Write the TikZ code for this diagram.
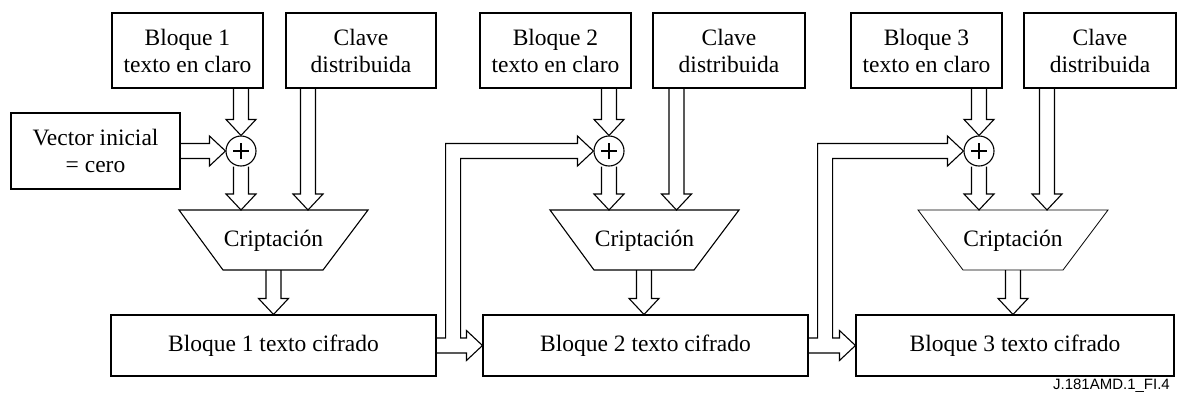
\documentclass[tikz,border=0pt]{standalone}
\usepackage{fontspec}
\setmainfont{Liberation Serif}
\newfontfamily\labelsans{Liberation Sans}
\usetikzlibrary{calc}
\tikzset{
  barrowline/.style={line width=1.1pt, line join=miter},
  boxnode/.style={draw, line width=1.1pt, inner sep=0pt, align=center,
    font=\fontsize{23.5}{27}\selectfont},
  xornode/.style={draw, circle, line width=1.1pt, minimum size=30pt, inner sep=0pt},
  trapline/.style={line width=1.1pt, line join=miter},
  traptext/.style={anchor=base, inner sep=0pt, font=\fontsize{23.5}{27}\selectfont},
  plusline/.style={line width=1.2pt}
}
% vertical block arrow (downwards) from #1 to #2
\newcommand{\vbarrow}[2]{%
  \draw[barrowline] let \p1=(#1), \p2=(#2) in
   (\x1-7.5pt,\y1) -- (\x1-7.5pt,\y2+16pt) -- (\x1-15pt,\y2+16pt) -- (\x1,\y2)
   -- (\x1+15pt,\y2+16pt) -- (\x1+7.5pt,\y2+16pt) -- (\x1+7.5pt,\y1);}
% horizontal block arrow (rightwards) from #1 to #2
\newcommand{\hbarrow}[2]{%
  \draw[barrowline] let \p1=(#1), \p2=(#2) in
   (\x1,\y1+7.5pt) -- (\x2-16pt,\y1+7.5pt) -- (\x2-16pt,\y1+15pt) -- (\x2,\y1)
   -- (\x2-16pt,\y1-15pt) -- (\x2-16pt,\y1-7.5pt) -- (\x1,\y1-7.5pt);}
% feedback block arrow: from cipher box #1 east, up to xor #2 west and on to next cipher box #3 west
\newcommand{\fbarrow}[3]{%
  \draw[barrowline] let \p1=(#1), \p2=(#2), \p3=(#3), \p4=($(#1)+(16.5,0)$) in
   (\x1,\y1+7.5pt) -- (\x4-7.5pt,\y1+7.5pt) -- (\x4-7.5pt,\y2+7.5pt)
   -- (\x2-16pt,\y2+7.5pt) -- (\x2-16pt,\y2+15pt) -- (\x2,\y2)
   -- (\x2-16pt,\y2-15pt) -- (\x2-16pt,\y2-7.5pt) -- (\x4+7.5pt,\y2-7.5pt)
   -- (\x4+7.5pt,\y1+7.5pt) -- (\x3-16pt,\y1+7.5pt) -- (\x3-16pt,\y1+15pt)
   -- (\x3,\y1) -- (\x3-16pt,\y1-15pt) -- (\x3-16pt,\y1-7.5pt) -- (\x1,\y1-7.5pt);}
\begin{document}
\begin{tikzpicture}[x=1pt,y=-1pt]
\useasboundingbox (0,0) rectangle (1178,402);

% ---------- Stage 1 ----------
\node[boxnode, minimum width=151pt, minimum height=75pt] (p1) at (187.5,50.5) {Bloque 1\\texto en claro};
\node[boxnode, minimum width=150pt, minimum height=75pt] (k1) at (361,50.5) {Clave\\distribuida};
\node[boxnode, minimum width=169pt, minimum height=76pt] (v) at (95.5,151) {Vector inicial\\= cero};
\node[xornode] (x1) at (241,151) {};
\draw[plusline] ([xshift=-8pt]x1.center) -- ([xshift=8pt]x1.center)
  ([yshift=-8pt]x1.center) -- ([yshift=8pt]x1.center);
\coordinate (t1a) at (179,210); \coordinate (t1b) at (368,210);
\coordinate (t1c) at (323,270); \coordinate (t1d) at (223,270);
\draw[trapline] (t1a) -- (t1b) -- (t1c) -- (t1d) -- cycle;
\node[traptext] (e1) at (273.5,246) {Criptación};
\node[boxnode, minimum width=325pt, minimum height=61pt] (c1) at (273.5,345.5) {Bloque 1 texto cifrado};
\coordinate (ka1) at ([xshift=-53pt]k1.south);
\coordinate (ea1) at (273.5,270);

\vbarrow{x1.north |- p1.south}{x1.north}
\hbarrow{v.east |- x1.west}{x1.west}
\vbarrow{x1.south}{x1.south |- t1a}
\vbarrow{ka1}{ka1 |- t1a}
\vbarrow{ea1}{ea1 |- c1.north}

% ---------- Stage 2 ----------
\node[boxnode, minimum width=151pt, minimum height=75pt] (p2) at (555.5,50.5) {Bloque 2\\texto en claro};
\node[boxnode, minimum width=152pt, minimum height=75pt] (k2) at (729,50.5) {Clave\\distribuida};
\node[xornode] (x2) at (609,151) {};
\draw[plusline] ([xshift=-8pt]x2.center) -- ([xshift=8pt]x2.center)
  ([yshift=-8pt]x2.center) -- ([yshift=8pt]x2.center);
\coordinate (t2a) at (550,210); \coordinate (t2b) at (739,210);
\coordinate (t2c) at (694,270); \coordinate (t2d) at (594,270);
\draw[trapline] (t2a) -- (t2b) -- (t2c) -- (t2d) -- cycle;
\node[traptext] (e2) at (644.5,246) {Criptación};
\node[boxnode, minimum width=325pt, minimum height=61pt] (c2) at (645.5,345.5) {Bloque 2 texto cifrado};
\coordinate (ka2) at ([xshift=-52.5pt]k2.south);
\coordinate (ea2) at (644,270);

\vbarrow{x2.north |- p2.south}{x2.north}
\vbarrow{x2.south}{x2.south |- t2a}
\vbarrow{ka2}{ka2 |- t2a}
\vbarrow{ea2}{ea2 |- c2.north}
\fbarrow{c1.east}{x2.west}{c2.west}

% ---------- Stage 3 ----------
\node[boxnode, minimum width=151pt, minimum height=75pt] (p3) at (926.5,50.5) {Bloque 3\\texto en claro};
\node[boxnode, minimum width=152pt, minimum height=75pt] (k3) at (1100,50.5) {Clave\\distribuida};
\node[xornode] (x3) at (979,151) {};
\draw[plusline] ([xshift=-8pt]x3.center) -- ([xshift=8pt]x3.center)
  ([yshift=-8pt]x3.center) -- ([yshift=8pt]x3.center);
\coordinate (t3a) at (918,210); \coordinate (t3b) at (1108,210);
\coordinate (t3c) at (1063,270); \coordinate (t3d) at (963,270);
\draw[trapline, line width=0.8pt] (t3a) -- (t3b) -- (t3c) -- (t3d) -- cycle;
\node[traptext] (e3) at (1013,246) {Criptación};
\node[boxnode, minimum width=318pt, minimum height=61pt] (c3) at (1015,345.5) {Bloque 3 texto cifrado};
\coordinate (ka3) at ([xshift=-53pt]k3.south);
\coordinate (ea3) at (1013,270);

\vbarrow{x3.north |- p3.south}{x3.north}
\vbarrow{x3.south}{x3.south |- t3a}
\vbarrow{ka3}{ka3 |- t3a}
\vbarrow{ea3}{ea3 |- c3.north}
\fbarrow{c2.east}{x3.west}{c3.west}

% ---------- label ----------
\node[anchor=base east, inner sep=0pt, font=\labelsans\fontsize{15}{18}\selectfont] (lab) at (1170,389) {J.181AMD.1\_FI.4};
\end{tikzpicture}
\end{document}
